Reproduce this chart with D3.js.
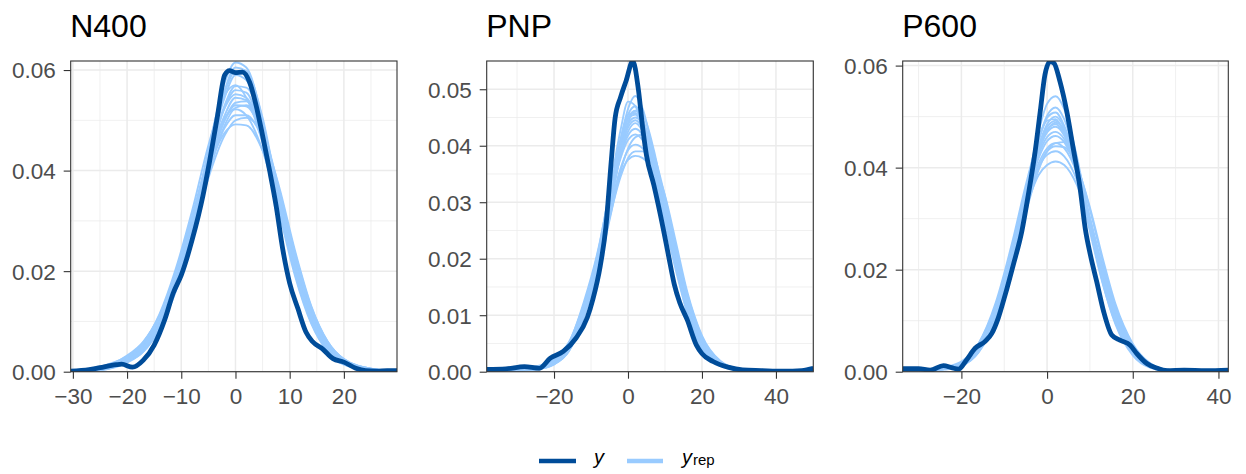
<!DOCTYPE html>
<html>
<head>
<meta charset="utf-8">
<script src="https://cdn.jsdelivr.net/npm/d3@7"></script>
<style>
  html, body { margin: 0; padding: 0; background: #ffffff; }
  svg { display: block; font-family: "Liberation Sans", Arial, Helvetica, sans-serif; }
</style>
</head>
<body>
<svg id="chart" width="1246" height="474"></svg>
<script>
// ---- Posterior predictive density overlays: observed y vs replicated y_rep ----

const panelTitles = ["N400", "PNP", "P600"];

// N400: observed density
const n400ObsX = [-30.4,-27,-25,-22,-21,-19,-17,-15,-13,-11.5,-10,-8,-6,-4.8,-3.3,-2,-1.1,0,1.3,2.6,3.8,5,6.3,7.5,8.7,10,11.5,13,14.2,16,18,20,22.2,24,26,28,29.8];
const n400ObsY = [0.0001,0.0004,0.0008,0.0014,0.0015,0.0009,0.0023,0.0053,0.0105,0.0156,0.0192,0.0262,0.0350,0.0417,0.0510,0.0590,0.0599,0.0595,0.0596,0.0576,0.0530,0.0470,0.0400,0.0330,0.0245,0.0176,0.0126,0.0079,0.0060,0.0046,0.0026,0.0019,0.0007,0.0002,0.0001,0.0002,0.0002];
// N400: replicated densities
const n400RepX = [-30,-25,-20,-17,-14,-11,-8,-5,-2,0,2,5,8,11,14,17,20,25,30];
const n400Reps = [
  [0.0001,0.0005,0.0025,0.0050,0.0100,0.0180,0.0290,0.0410,0.0510,0.0545,0.0540,0.0470,0.0340,0.0210,0.0110,0.0050,0.0020,0.0004,0.0001],
  [0.0000,0.0003,0.0020,0.0042,0.0090,0.0170,0.0285,0.0430,0.0560,0.0605,0.0598,0.0505,0.0345,0.0200,0.0100,0.0042,0.0015,0.0003,0.0000],
  [0.0002,0.0008,0.0032,0.0060,0.0112,0.0195,0.0300,0.0405,0.0475,0.0492,0.0490,0.0440,0.0340,0.0225,0.0125,0.0058,0.0024,0.0005,0.0001],
  [0.0001,0.0006,0.0030,0.0058,0.0115,0.0205,0.0320,0.0450,0.0550,0.0570,0.0545,0.0455,0.0320,0.0190,0.0095,0.0040,0.0015,0.0003,0.0000],
  [0.0001,0.0004,0.0020,0.0040,0.0085,0.0160,0.0265,0.0390,0.0490,0.0525,0.0530,0.0480,0.0360,0.0230,0.0125,0.0058,0.0024,0.0005,0.0001],
  [0.0001,0.0005,0.0024,0.0048,0.0098,0.0182,0.0300,0.0430,0.0545,0.0590,0.0580,0.0480,0.0335,0.0205,0.0105,0.0046,0.0018,0.0004,0.0001],
  [0.0001,0.0006,0.0028,0.0054,0.0105,0.0185,0.0290,0.0400,0.0485,0.0510,0.0510,0.0462,0.0350,0.0222,0.0118,0.0054,0.0022,0.0005,0.0001],
  [0.0002,0.0010,0.0030,0.0050,0.0095,0.0175,0.0285,0.0415,0.0525,0.0560,0.0555,0.0470,0.0338,0.0208,0.0112,0.0052,0.0022,0.0006,0.0001],
  [0.0000,0.0003,0.0018,0.0040,0.0088,0.0168,0.0285,0.0440,0.0575,0.0615,0.0605,0.0500,0.0335,0.0195,0.0098,0.0040,0.0014,0.0003,0.0000],
  [0.0001,0.0004,0.0020,0.0042,0.0088,0.0165,0.0270,0.0385,0.0470,0.0500,0.0505,0.0470,0.0370,0.0240,0.0130,0.0060,0.0025,0.0006,0.0001],
  [0.0001,0.0005,0.0026,0.0052,0.0102,0.0185,0.0300,0.0425,0.0525,0.0552,0.0545,0.0468,0.0330,0.0200,0.0105,0.0047,0.0018,0.0004,0.0001],
  [0.0001,0.0007,0.0028,0.0052,0.0100,0.0178,0.0285,0.0405,0.0500,0.0530,0.0528,0.0470,0.0352,0.0218,0.0115,0.0052,0.0021,0.0005,0.0001],
  [0.0001,0.0005,0.0022,0.0045,0.0092,0.0172,0.0280,0.0415,0.0530,0.0568,0.0565,0.0492,0.0350,0.0212,0.0108,0.0048,0.0019,0.0004,0.0001],
  [0.0001,0.0007,0.0030,0.0058,0.0112,0.0198,0.0310,0.0425,0.0505,0.0522,0.0510,0.0440,0.0325,0.0205,0.0110,0.0050,0.0020,0.0005,0.0001],
  [0.0001,0.0004,0.0022,0.0046,0.0095,0.0178,0.0295,0.0435,0.0555,0.0598,0.0590,0.0495,0.0342,0.0202,0.0102,0.0044,0.0016,0.0003,0.0000],
  [0.0001,0.0005,0.0024,0.0047,0.0094,0.0172,0.0280,0.0400,0.0500,0.0535,0.0538,0.0485,0.0365,0.0235,0.0128,0.0060,0.0025,0.0006,0.0001]
];

// PNP: observed density
const pnpObsX = [-38.2,-33,-28,-24,-21,-17.5,-14,-11,-9.5,-7.5,-6,-4.5,-3.5,-2,-0.5,1.3,2.8,4,5,7,9.5,11,12.5,14,16,18.5,20,23,27,31,36,42,47,50.1];
const pnpObsY = [0.0004,0.0005,0.0009,0.0006,0.0024,0.0036,0.0060,0.0096,0.0128,0.0187,0.0255,0.0375,0.0448,0.0486,0.0515,0.0550,0.0500,0.0430,0.0383,0.0330,0.0254,0.0204,0.0155,0.0122,0.0092,0.0047,0.0032,0.0018,0.0008,0.0003,0.0002,0.0001,0.0002,0.0006];
// PNP: replicated densities
const pnpRepX = [-38,-30,-25,-20,-16,-12,-8,-5,-2,0,2,4,7,10,13,16,20,25,30,38,50];
const pnpReps = [
  [0.0001,0.0002,0.0005,0.0016,0.0042,0.0108,0.0198,0.0292,0.0385,0.0425,0.0440,0.0425,0.0370,0.0290,0.0200,0.0120,0.0050,0.0014,0.0004,0.0001,0.0000],
  [0.0000,0.0002,0.0004,0.0013,0.0036,0.0098,0.0192,0.0300,0.0410,0.0465,0.0488,0.0465,0.0380,0.0280,0.0185,0.0105,0.0040,0.0010,0.0003,0.0000,0.0000],
  [0.0001,0.0004,0.0009,0.0022,0.0052,0.0118,0.0205,0.0285,0.0350,0.0375,0.0382,0.0378,0.0350,0.0295,0.0215,0.0138,0.0062,0.0018,0.0005,0.0001,0.0000],
  [0.0001,0.0003,0.0007,0.0020,0.0050,0.0122,0.0218,0.0318,0.0412,0.0455,0.0458,0.0430,0.0360,0.0272,0.0185,0.0110,0.0045,0.0012,0.0003,0.0001,0.0000],
  [0.0000,0.0002,0.0004,0.0013,0.0036,0.0095,0.0180,0.0268,0.0355,0.0395,0.0415,0.0420,0.0385,0.0310,0.0220,0.0135,0.0058,0.0016,0.0004,0.0001,0.0000],
  [0.0001,0.0002,0.0005,0.0015,0.0040,0.0105,0.0200,0.0305,0.0405,0.0455,0.0470,0.0448,0.0375,0.0280,0.0188,0.0110,0.0044,0.0012,0.0003,0.0001,0.0000],
  [0.0001,0.0003,0.0007,0.0019,0.0046,0.0112,0.0200,0.0285,0.0360,0.0392,0.0402,0.0395,0.0360,0.0298,0.0212,0.0130,0.0058,0.0017,0.0005,0.0001,0.0000],
  [0.0000,0.0002,0.0005,0.0016,0.0040,0.0102,0.0192,0.0290,0.0390,0.0438,0.0450,0.0438,0.0385,0.0300,0.0205,0.0120,0.0048,0.0013,0.0003,0.0001,0.0000],
  [0.0001,0.0003,0.0006,0.0018,0.0045,0.0112,0.0205,0.0298,0.0382,0.0418,0.0430,0.0418,0.0365,0.0288,0.0202,0.0124,0.0052,0.0015,0.0004,0.0001,0.0000],
  [0.0001,0.0003,0.0006,0.0018,0.0046,0.0115,0.0215,0.0320,0.0428,0.0478,0.0470,0.0430,0.0350,0.0262,0.0178,0.0105,0.0042,0.0011,0.0003,0.0000,0.0000],
  [0.0000,0.0002,0.0005,0.0015,0.0038,0.0100,0.0188,0.0272,0.0345,0.0378,0.0390,0.0390,0.0368,0.0312,0.0228,0.0142,0.0064,0.0019,0.0005,0.0001,0.0000],
  [0.0001,0.0003,0.0006,0.0017,0.0043,0.0108,0.0200,0.0298,0.0392,0.0432,0.0445,0.0430,0.0372,0.0288,0.0198,0.0118,0.0049,0.0014,0.0004,0.0001,0.0000],
  [0.0001,0.0002,0.0005,0.0015,0.0039,0.0102,0.0195,0.0295,0.0398,0.0448,0.0462,0.0442,0.0378,0.0290,0.0196,0.0115,0.0046,0.0012,0.0003,0.0001,0.0000],
  [0.0001,0.0003,0.0007,0.0020,0.0048,0.0116,0.0208,0.0300,0.0378,0.0410,0.0420,0.0410,0.0368,0.0295,0.0208,0.0128,0.0055,0.0016,0.0004,0.0001,0.0000],
  [0.0000,0.0002,0.0005,0.0014,0.0037,0.0098,0.0188,0.0285,0.0385,0.0440,0.0462,0.0455,0.0392,0.0295,0.0198,0.0115,0.0046,0.0012,0.0003,0.0000,0.0000],
  [0.0001,0.0003,0.0006,0.0017,0.0044,0.0110,0.0206,0.0310,0.0405,0.0448,0.0455,0.0432,0.0365,0.0280,0.0192,0.0114,0.0047,0.0013,0.0003,0.0001,0.0000]
];

// P600: observed density
const p600ObsX = [-33.7,-30,-27.3,-24.2,-22.3,-20.7,-18.8,-16.8,-14.5,-12.9,-11.4,-9.8,-7.9,-5.9,-4.4,-2.8,-1.6,-0.5,0.7,1.6,3.0,4.6,6.1,7.7,8.9,10.1,11.6,13.2,15.1,17.0,19.4,20.9,23.3,25.6,28,32,37,42.3];
const p600ObsY = [0.0006,0.0006,0.0003,0.0012,0.0008,0.0005,0.0023,0.0046,0.0059,0.0075,0.0105,0.0150,0.0209,0.0275,0.0346,0.0431,0.0510,0.0582,0.0608,0.0605,0.0569,0.0510,0.0438,0.0360,0.0281,0.0229,0.0176,0.0118,0.0072,0.0062,0.0052,0.0036,0.0016,0.0007,0.0002,0.0003,0.0002,0.0003];
// P600: replicated densities
const p600RepX = [-34,-28,-24,-20,-16,-12,-8,-5,-2,0,2,4,7,10,13,16,20,24,28,34,42];
const p600Reps = [
  [0.0001,0.0003,0.0006,0.0014,0.0045,0.0117,0.0235,0.0340,0.0431,0.0469,0.0480,0.0463,0.0393,0.0291,0.0189,0.0107,0.0041,0.0012,0.0003,0.0001,0.0000],
  [0.0000,0.0002,0.0004,0.0011,0.0038,0.0105,0.0228,0.0352,0.0470,0.0525,0.0540,0.0515,0.0420,0.0290,0.0175,0.0092,0.0032,0.0008,0.0002,0.0000,0.0000],
  [0.0001,0.0004,0.0009,0.0020,0.0055,0.0128,0.0235,0.0320,0.0385,0.0405,0.0412,0.0405,0.0365,0.0292,0.0205,0.0125,0.0052,0.0016,0.0004,0.0001,0.0000],
  [0.0001,0.0003,0.0007,0.0018,0.0055,0.0135,0.0258,0.0365,0.0455,0.0492,0.0495,0.0468,0.0385,0.0275,0.0172,0.0095,0.0035,0.0010,0.0002,0.0000,0.0000],
  [0.0000,0.0002,0.0005,0.0012,0.0038,0.0100,0.0210,0.0310,0.0395,0.0432,0.0448,0.0450,0.0405,0.0318,0.0215,0.0125,0.0050,0.0015,0.0004,0.0001,0.0000],
  [0.0001,0.0002,0.0005,0.0013,0.0042,0.0112,0.0232,0.0348,0.0452,0.0502,0.0518,0.0495,0.0408,0.0292,0.0182,0.0100,0.0037,0.0010,0.0002,0.0000,0.0000],
  [0.0001,0.0003,0.0007,0.0016,0.0048,0.0120,0.0232,0.0325,0.0400,0.0425,0.0432,0.0422,0.0375,0.0295,0.0200,0.0117,0.0047,0.0014,0.0004,0.0001,0.0000],
  [0.0001,0.0003,0.0006,0.0015,0.0046,0.0118,0.0236,0.0338,0.0425,0.0460,0.0470,0.0456,0.0395,0.0298,0.0196,0.0112,0.0044,0.0013,0.0003,0.0001,0.0000],
  [0.0001,0.0003,0.0006,0.0014,0.0044,0.0115,0.0238,0.0345,0.0440,0.0480,0.0492,0.0472,0.0398,0.0292,0.0186,0.0104,0.0039,0.0011,0.0003,0.0000,0.0000],
  [0.0000,0.0002,0.0005,0.0012,0.0040,0.0105,0.0215,0.0315,0.0400,0.0432,0.0442,0.0440,0.0402,0.0322,0.0222,0.0132,0.0055,0.0017,0.0004,0.0001,0.0000],
  [0.0001,0.0003,0.0007,0.0017,0.0050,0.0126,0.0248,0.0358,0.0455,0.0498,0.0508,0.0482,0.0398,0.0282,0.0176,0.0097,0.0036,0.0010,0.0002,0.0000,0.0000],
  [0.0001,0.0003,0.0006,0.0015,0.0045,0.0116,0.0230,0.0332,0.0418,0.0452,0.0462,0.0450,0.0392,0.0298,0.0198,0.0114,0.0045,0.0013,0.0003,0.0001,0.0000],
  [0.0001,0.0003,0.0006,0.0015,0.0047,0.0120,0.0240,0.0346,0.0438,0.0475,0.0485,0.0466,0.0395,0.0290,0.0188,0.0106,0.0040,0.0012,0.0003,0.0001,0.0000],
  [0.0001,0.0003,0.0007,0.0017,0.0050,0.0124,0.0238,0.0330,0.0408,0.0438,0.0448,0.0438,0.0388,0.0300,0.0202,0.0118,0.0047,0.0014,0.0004,0.0001,0.0000],
  [0.0000,0.0002,0.0005,0.0013,0.0040,0.0108,0.0225,0.0335,0.0430,0.0472,0.0488,0.0475,0.0408,0.0302,0.0195,0.0110,0.0042,0.0012,0.0003,0.0000,0.0000],
  [0.0001,0.0003,0.0006,0.0016,0.0048,0.0122,0.0242,0.0350,0.0442,0.0485,0.0500,0.0478,0.0395,0.0285,0.0180,0.0100,0.0038,0.0011,0.0003,0.0000,0.0000]
];

// Axis limits and breaks per panel
const n400XLim = [-30.4, 29.8], n400YLim = [0, 0.0618];
const pnpXLim = [-38.2, 50.1],  pnpYLim = [0, 0.0550];
const p600XLim = [-33.7, 42.3], p600YLim = [0, 0.0609];

const n400XTicks = [-30, -20, -10, 0, 10, 20], n400XMinor = [-25, -15, -5, 5, 15, 25];
const n400YTicks = [0, 0.02, 0.04, 0.06],      n400YMinor = [0.01, 0.03, 0.05];
const pnpXTicks = [-20, 0, 20, 40],             pnpXMinor = [-30, -10, 10, 30, 50];
const pnpYTicks = [0, 0.01, 0.02, 0.03, 0.04, 0.05], pnpYMinor = [0.005, 0.015, 0.025, 0.035, 0.045];
const p600XTicks = [-20, 0, 20, 40],            p600XMinor = [-30, -10, 10, 30];
const p600YTicks = [0, 0.02, 0.04, 0.06],       p600YMinor = [0.01, 0.03, 0.05];

// Colours
const colY = "#004c99";
const colYrep = "#99cbff";

// ---- Layout ----
const svg = d3.select("#chart");
const plotTop = 61, plotBottom = 371.7;
const panels = [
  { title: panelTitles[0], left: 70.7, right: 397.0, xLim: n400XLim, yLim: n400YLim,
    xTicks: n400XTicks, xMinor: n400XMinor, yTicks: n400YTicks, yMinor: n400YMinor,
    obsX: n400ObsX, obsY: n400ObsY, repX: n400RepX, reps: n400Reps },
  { title: panelTitles[1], left: 486.7, right: 813.3, xLim: pnpXLim, yLim: pnpYLim,
    xTicks: pnpXTicks, xMinor: pnpXMinor, yTicks: pnpYTicks, yMinor: pnpYMinor,
    obsX: pnpObsX, obsY: pnpObsY, repX: pnpRepX, reps: pnpReps },
  { title: panelTitles[2], left: 902.7, right: 1228.3, xLim: p600XLim, yLim: p600YLim,
    xTicks: p600XTicks, xMinor: p600XMinor, yTicks: p600YTicks, yMinor: p600YMinor,
    obsX: p600ObsX, obsY: p600ObsY, repX: p600RepX, reps: p600Reps }
];

const gridCol = "#ebebeb";
const textCol = "#4d4d4d";

panels.forEach((p, i) => {
  const x = d3.scaleLinear().domain(p.xLim).range([p.left, p.right]);
  const y = d3.scaleLinear().domain(p.yLim).range([plotBottom, plotTop]);
  const g = svg.append("g");

  const clipId = "clip" + i;
  svg.append("defs").append("clipPath").attr("id", clipId)
    .append("rect").attr("x", p.left).attr("y", plotTop)
    .attr("width", p.right - p.left).attr("height", plotBottom - plotTop);

  // minor grid
  g.selectAll(".vminor").data(p.xMinor.filter(v => v >= p.xLim[0] && v <= p.xLim[1])).join("line")
    .attr("x1", d => x(d)).attr("x2", d => x(d)).attr("y1", plotTop).attr("y2", plotBottom)
    .attr("stroke", gridCol).attr("stroke-width", 0.75);
  g.selectAll(".hminor").data(p.yMinor.filter(v => v <= p.yLim[1])).join("line")
    .attr("y1", d => y(d)).attr("y2", d => y(d)).attr("x1", p.left).attr("x2", p.right)
    .attr("stroke", gridCol).attr("stroke-width", 0.75);
  // major grid
  g.selectAll(".vmajor").data(p.xTicks).join("line")
    .attr("x1", d => x(d)).attr("x2", d => x(d)).attr("y1", plotTop).attr("y2", plotBottom)
    .attr("stroke", gridCol).attr("stroke-width", 1.5);
  g.selectAll(".hmajor").data(p.yTicks).join("line")
    .attr("y1", d => y(d)).attr("y2", d => y(d)).attr("x1", p.left).attr("x2", p.right)
    .attr("stroke", gridCol).attr("stroke-width", 1.5);

  const plot = g.append("g").attr("clip-path", `url(#${clipId})`);

  // replicated densities
  const repLine = d3.line()
    .x((d, k) => x(p.repX[k]))
    .y(d => y(d))
    .curve(d3.curveMonotoneX);
  plot.selectAll(".rep").data(p.reps).join("path")
    .attr("d", repLine)
    .attr("fill", "none")
    .attr("stroke", colYrep)
    .attr("stroke-width", 1.9)
    .attr("stroke-linejoin", "round");

  // observed density
  const obsLine = d3.line()
    .x((d, k) => x(p.obsX[k]))
    .y(d => y(d))
    .curve(d3.curveMonotoneX);
  plot.append("path").datum(p.obsY)
    .attr("d", obsLine)
    .attr("fill", "none")
    .attr("stroke", colY)
    .attr("stroke-width", 4.8)
    .attr("stroke-linejoin", "round");

  // panel border
  g.append("rect").attr("x", p.left).attr("y", plotTop)
    .attr("width", p.right - p.left).attr("height", plotBottom - plotTop)
    .attr("fill", "none").attr("stroke", "#333333").attr("stroke-width", 1.1);

  // axes
  const fmtY = d3.format(".2f");
  const xAxis = d3.axisBottom(x).tickValues(p.xTicks).tickSize(7).tickPadding(4)
    .tickFormat(d3.format("d"));
  const yAxis = d3.axisLeft(y).tickValues(p.yTicks).tickSize(7).tickPadding(8)
    .tickFormat(fmtY);

  const gx = g.append("g").attr("transform", `translate(0,${plotBottom})`).call(xAxis);
  const gy = g.append("g").attr("transform", `translate(${p.left},0)`).call(yAxis);
  [gx, gy].forEach(ax => {
    ax.select(".domain").remove();
    ax.selectAll(".tick line").attr("stroke", "#333333").attr("stroke-width", 1.1);
    ax.selectAll(".tick text").attr("fill", textCol)
      .style("font-size", "22.5px")
      .style("font-family", "'Liberation Sans', Arial, Helvetica, sans-serif");
  });
  gx.selectAll(".tick text").attr("dy", "0.93em");
  gy.selectAll(".tick text").attr("dy", "0.35em");

  // title
  g.append("text").attr("x", p.left - 0.5).attr("y", 37)
    .attr("fill", "#000000")
    .style("font-size", "32px")
    .text(p.title);
});

// ---- Legend ----
const legend = svg.append("g");
const legY = 461;
legend.append("line").attr("x1", 539).attr("x2", 576).attr("y1", legY).attr("y2", legY)
  .attr("stroke", colY).attr("stroke-width", 4.4);
legend.append("text").attr("x", 594).attr("y", 463.5)
  .style("font-size", "20px").style("font-style", "italic").attr("fill", "#000")
  .text("y");
legend.append("line").attr("x1", 627).attr("x2", 663).attr("y1", legY).attr("y2", legY)
  .attr("stroke", colYrep).attr("stroke-width", 4.4);
const repLabel = legend.append("text").attr("x", 682).attr("y", 463.5)
  .style("font-size", "20px").attr("fill", "#000");
repLabel.append("tspan").style("font-style", "italic").text("y");
repLabel.append("tspan").attr("dx", 1).attr("dy", 1.5).style("font-size", "15px").text("rep");
</script>
</body>
</html>
